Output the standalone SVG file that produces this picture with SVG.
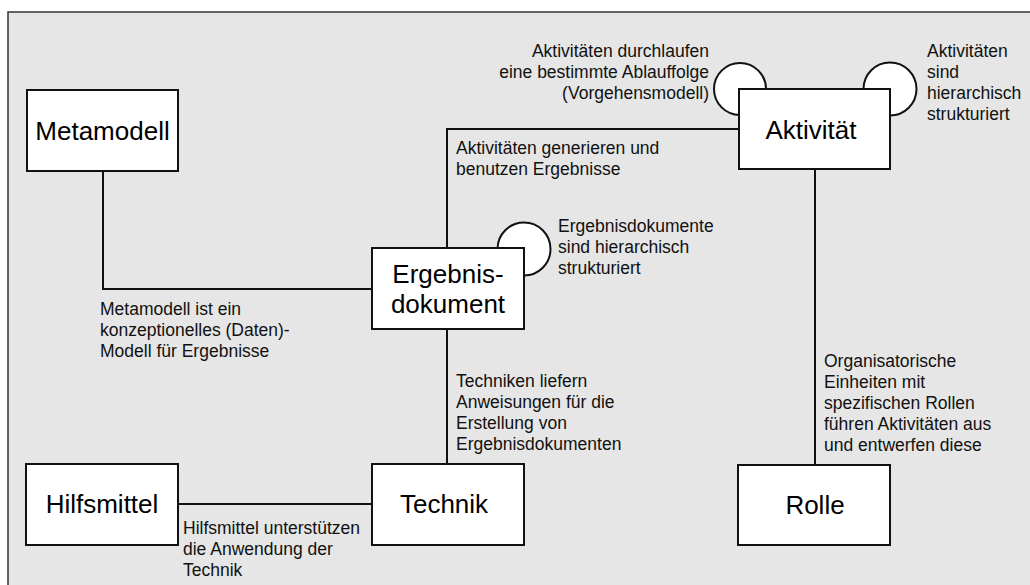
<svg xmlns="http://www.w3.org/2000/svg" width="1030" height="585" viewBox="0 0 1030 585">
<style>
.frame{fill:#e6e6e6;stroke:#333;stroke-width:1.5}
.box{fill:#fff;stroke:#111;stroke-width:2}
.loop{fill:#fff;stroke:#111;stroke-width:2}
.conn{fill:none;stroke:#111;stroke-width:2}
.nl{font-family:"Liberation Sans",Arial,sans-serif;font-size:26px;fill:#000;text-anchor:middle}
.lbl{font-family:"Liberation Sans",Arial,sans-serif;font-size:17.5px;fill:#111}
.r{text-anchor:end}
</style>
<rect class="frame" x="8" y="12" width="1030" height="590"/>
<g id="connectors">
<polyline class="conn" points="103,171 103,289 372,289"/>
<polyline class="conn" points="447,248 447,129 739,129"/>
<line class="conn" x1="447" y1="329" x2="447" y2="464"/>
<line class="conn" x1="178" y1="504" x2="372" y2="504"/>
<line class="conn" x1="815" y1="169" x2="815" y2="465"/>
<circle class="loop" cx="740" cy="89" r="26"/>
<circle class="loop" cx="890" cy="89" r="26.5"/>
<circle class="loop" cx="524" cy="249" r="26.5"/>
</g>
<g id="labels">
<text class="lbl r" x="709" y="57">Aktivitäten durchlaufen</text>
<text class="lbl r" x="709" y="78">eine bestimmte Ablauffolge</text>
<text class="lbl r" x="709" y="99">(Vorgehensmodell)</text>
<text class="lbl" x="927" y="57">Aktivitäten</text>
<text class="lbl" x="927" y="78">sind</text>
<text class="lbl" x="927" y="99">hierarchisch</text>
<text class="lbl" x="927" y="120">strukturiert</text>
<text class="lbl" x="456" y="154">Aktivitäten generieren und</text>
<text class="lbl" x="456" y="175">benutzen Ergebnisse</text>
<text class="lbl" x="558" y="232">Ergebnisdokumente</text>
<text class="lbl" x="558" y="253">sind hierarchisch</text>
<text class="lbl" x="558" y="274">strukturiert</text>
<text class="lbl" x="100" y="315">Metamodell ist ein</text>
<text class="lbl" x="100" y="336">konzeptionelles (Daten)-</text>
<text class="lbl" x="100" y="357">Modell für Ergebnisse</text>
<text class="lbl" x="456" y="387">Techniken liefern</text>
<text class="lbl" x="456" y="408">Anweisungen für die</text>
<text class="lbl" x="456" y="429">Erstellung von</text>
<text class="lbl" x="456" y="450">Ergebnisdokumenten</text>
<text class="lbl" x="824" y="367">Organisatorische</text>
<text class="lbl" x="824" y="388">Einheiten mit</text>
<text class="lbl" x="824" y="409">spezifischen Rollen</text>
<text class="lbl" x="824" y="430">führen Aktivitäten aus</text>
<text class="lbl" x="824" y="451">und entwerfen diese</text>
<text class="lbl" x="183" y="534">Hilfsmittel unterstützen</text>
<text class="lbl" x="183" y="555">die Anwendung der</text>
<text class="lbl" x="183" y="576">Technik</text>
</g>
<g id="metamodell">
<rect class="box" x="27" y="90" width="151" height="81"/>
<text class="nl" x="102.5" y="140">Metamodell</text>
</g>
<g id="ergebnisdokument">
<rect class="box" x="372" y="248" width="152" height="81"/>
<text class="nl" x="448" y="283">Ergebnis-</text>
<text class="nl" x="448" y="313">dokument</text>
</g>
<g id="aktivitaet">
<rect class="box" x="739" y="89" width="151" height="80"/>
<text class="nl" x="811" y="139">Aktivität</text>
</g>
<g id="hilfsmittel">
<rect class="box" x="26" y="464" width="152" height="81"/>
<text class="nl" x="102" y="513">Hilfsmittel</text>
</g>
<g id="technik">
<rect class="box" x="372" y="464" width="152" height="81"/>
<text class="nl" x="444" y="513">Technik</text>
</g>
<g id="rolle">
<rect class="box" x="738" y="465" width="152" height="80"/>
<text class="nl" x="815" y="514">Rolle</text>
</g>
</svg>
